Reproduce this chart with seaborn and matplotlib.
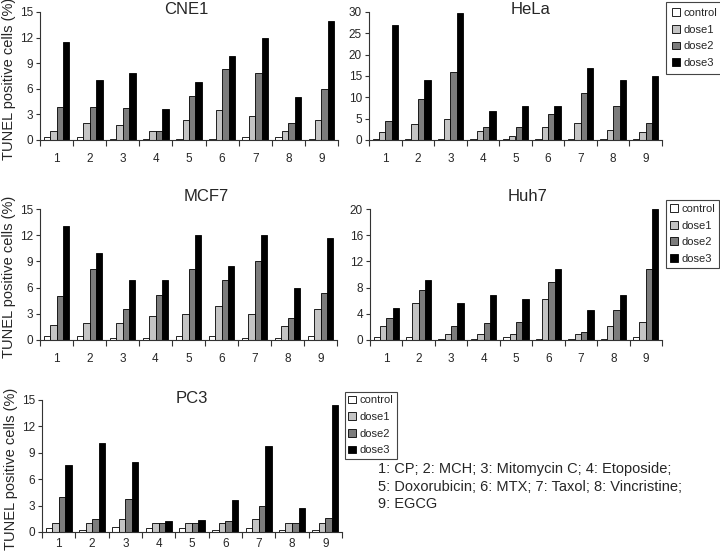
"""
TUNEL positive cells per drug and dose, five cell lines (Excel-style bar panels).
"""

import matplotlib
matplotlib.use("Agg")
import matplotlib.pyplot as plt
import numpy as np
import pandas as pd
import seaborn as sns

drugs = ["1", "2", "3", "4", "5", "6", "7", "8", "9"]
groups = ["control", "dose1", "dose2", "dose3"]
palette = ["white", "#c4c4c4", "#7c7c7c", "black"]

# ── values (% TUNEL positive) ──────────────────────────────────────────
cne1_control = [0.4, 0.4, 0.1, 0.1, 0.1, 0.1, 0.4, 0.4, 0.1]
cne1_dose1   = [1.0, 2.0, 1.8, 1.0, 2.3, 3.5, 2.8, 1.0, 2.3]
cne1_dose2   = [3.9, 3.9, 3.8, 1.0, 5.1, 8.3, 7.9, 2.0, 6.0]
cne1_dose3   = [11.5, 7.0, 7.9, 3.6, 6.8, 9.9, 12.0, 5.0, 14.0]

hela_control = [0.3, 0.3, 0.2, 0.2, 0.2, 0.2, 0.3, 0.3, 0.2]
hela_dose1   = [1.8, 3.7, 4.9, 2.0, 0.9, 3.1, 4.0, 2.4, 1.8]
hela_dose2   = [4.5, 9.5, 16.0, 3.1, 3.1, 6.0, 11.0, 7.9, 4.0]
hela_dose3   = [27.0, 14.0, 29.8, 6.9, 7.9, 7.9, 16.9, 14.0, 14.9]

mcf7_control = [0.5, 0.5, 0.2, 0.2, 0.5, 0.5, 0.2, 0.2, 0.5]
mcf7_dose1   = [1.7, 2.0, 2.0, 2.7, 3.0, 3.9, 3.0, 1.6, 3.5]
mcf7_dose2   = [5.0, 8.1, 3.6, 5.2, 8.1, 6.9, 9.0, 2.5, 5.4]
mcf7_dose3   = [13.0, 10.0, 6.9, 6.9, 12.0, 8.5, 12.0, 6.0, 11.7]

huh7_control = [0.5, 0.5, 0.2, 0.2, 0.5, 0.2, 0.2, 0.2, 0.5]
huh7_dose1   = [2.2, 5.6, 0.9, 0.9, 0.9, 6.2, 0.9, 2.2, 2.8]
huh7_dose2   = [3.4, 7.7, 2.2, 2.6, 2.8, 8.9, 1.2, 4.6, 10.9]
huh7_dose3   = [4.9, 9.2, 5.7, 6.8, 6.2, 10.9, 4.6, 6.9, 20.0]

pc3_control  = [0.5, 0.2, 0.6, 0.5, 0.5, 0.2, 0.5, 0.2, 0.2]
pc3_dose1    = [1.0, 1.0, 1.5, 1.0, 1.0, 1.0, 1.5, 1.0, 1.0]
pc3_dose2    = [4.0, 1.5, 3.8, 1.0, 1.0, 1.2, 3.0, 1.0, 1.6]
pc3_dose3    = [7.6, 10.1, 7.9, 1.2, 1.4, 3.6, 9.8, 2.7, 14.4]

note = ("1: CP; 2: MCH; 3: Mitomycin C; 4: Etoposide;\n"
        "5: Doxorubicin; 6: MTX; 7: Taxol; 8: Vincristine;\n"
        "9: EGCG")

W, H = 720, 551


def _long(series):
    rows = []
    for g, vals in zip(groups, series):
        for d, v in zip(drugs, vals):
            rows.append({"drug": d, "group": g, "pct": v})
    return pd.DataFrame(rows)


def _rect(left, right, top, bottom):
    return [left / W, 1 - bottom / H, (right - left) / W, (bottom - top) / H]


panels = [
    # title, data, ymax, step, (l, r, t, b), title x / pad, xtick pad,
    # ylabel, legend (x, y, borderpad) px
    ("CNE1", [cne1_control, cne1_dose1, cne1_dose2, cne1_dose3], 15, 3,
     (40, 338, 12, 140), (0.49, -1.5), 9, True, None),
    ("HeLa", [hela_control, hela_dose1, hela_dose2, hela_dose3], 30, 5,
     (369, 662, 12, 140), (0.55, -1.5), 9, False, (666, 2, 0.55)),
    ("MCF7", [mcf7_control, mcf7_dose1, mcf7_dose2, mcf7_dose3], 15, 3,
     (40, 337, 209, 340), (0.56, 6), 9, True, None),
    ("Huh7", [huh7_control, huh7_dose1, huh7_dose2, huh7_dose3], 20, 4,
     (370, 662, 209, 340), (0.54, 6), 9, False, (666, 200, 0.35)),
    ("PC3", [pc3_control, pc3_dose1, pc3_dose2, pc3_dose3], 15, 3,
     (42, 342, 400, 532), (0.50, -2), 4, True, (345, 392, 0.3)),
]

sns.set_style("white")
plt.rcParams["font.family"] = ["Liberation Sans", "DejaVu Sans"]

fig = plt.figure(figsize=(W / 100, H / 100), dpi=100)

for title, series, ymax, step, box, tpos, xpad, ylab, leg in panels:
    ax = fig.add_axes(_rect(*box))
    df = _long(series)
    sns.barplot(
        data=df, x="drug", y="pct", hue="group",
        order=drugs, hue_order=groups, palette=palette,
        edgecolor="black", linewidth=0.6, width=0.78, saturation=1,
        errorbar=None, legend=leg is not None, ax=ax,
    )
    ax.set_xlim(-0.5, len(drugs) - 0.5)
    ax.set_ylim(0, ymax)
    ax.set_yticks(np.arange(0, ymax + step, step))
    ax.set_xticks(np.arange(-0.5, len(drugs), 1), minor=True)

    for side in ("top", "right"):
        ax.spines[side].set_visible(False)
    for side in ("left", "bottom"):
        ax.spines[side].set_color("#333333")
        ax.spines[side].set_linewidth(0.8)

    ax.tick_params(axis="y", direction="out", length=3, width=0.8,
                   pad=2, labelsize=8.5, left=True, color="#333333")
    ax.tick_params(axis="x", which="major", length=0, pad=xpad, labelsize=8.5)
    ax.tick_params(axis="x", which="minor", direction="out", length=4,
                   width=0.8, bottom=True, color="#333333")

    ax.set_xlabel("")
    if ylab:
        ax.set_ylabel("TUNEL positive cells (%)", fontsize=10.5)
        ax.yaxis.set_label_coords(-24 / (box[1] - box[0]), 0.48, )
    else:
        ax.set_ylabel("")
    ax.set_title(title, fontsize=12, x=tpos[0], pad=tpos[1])

    if leg is not None:
        sns.move_legend(
            ax, "upper left",
            bbox_to_anchor=(leg[0] / W, 1 - leg[1] / H),
            bbox_transform=fig.transFigure,
            title=None, frameon=True, fancybox=False, framealpha=1,
            edgecolor="#444444", fontsize=8,
            handlelength=0.7, handleheight=0.7, handletextpad=0.3,
            labelspacing=0.6, borderpad=leg[2], borderaxespad=0,
        )
        ax.get_legend().get_frame().set_linewidth(0.8)

fig.text(378 / W, 1 - 462 / H, note, fontsize=10.5, va="top", ha="left",
         linespacing=1.32)

fig.savefig("out.png", dpi=100)
plt.close(fig)
